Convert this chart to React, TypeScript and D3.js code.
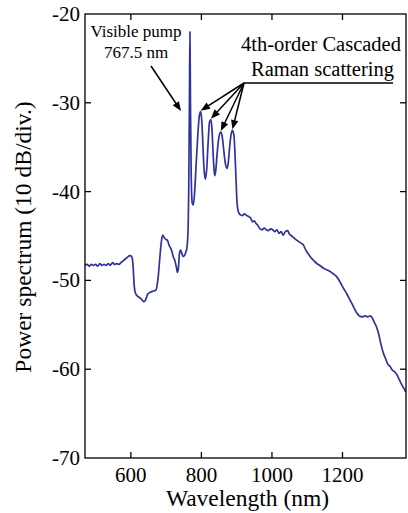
import React from "react";
import * as d3 from "d3";

const wavelength = [
  470, 476, 482, 488, 494, 500, 506, 512, 518, 524, 530, 536, 542, 548, 554, 560, 566, 572, 578, 584, 590, 597, 602,
  606, 609, 612, 617, 623, 630, 637, 642, 647, 652, 657, 664, 671, 675, 678, 682, 686, 690, 695, 700, 704, 708, 712,
  716, 720, 725, 729, 732, 735, 738, 741, 744, 748, 752, 756, 759, 762, 764, 766, 767.5, 769, 771, 774, 777, 780,
  785, 790, 794, 798, 801, 804, 807, 811, 815, 819, 823, 827, 830, 833, 836, 838, 841, 845, 850, 855, 859, 863, 867,
  872, 876, 880, 884, 888, 892, 895, 898, 901, 905, 910, 916, 922, 928, 934, 940, 945, 950, 955, 960, 966, 972, 978,
  984, 990, 996, 1002, 1008, 1014, 1020, 1026, 1032, 1038, 1044, 1050, 1056, 1062, 1068, 1075, 1082, 1089, 1096,
  1103, 1110, 1117, 1127, 1135, 1145, 1155, 1165, 1175, 1184, 1192, 1200, 1206, 1212, 1220, 1228, 1235, 1241, 1248,
  1256, 1264, 1272, 1278, 1284, 1290, 1297, 1303, 1309, 1316, 1322, 1328, 1335, 1341, 1348, 1354, 1360, 1366, 1373,
  1380,
];

const power = [
  -48.3, -48.2, -48.4, -48.2, -48.3, -48.2, -48.4, -48.1, -48.3, -48.2, -48.3, -48.1, -48.3, -48.0, -48.2, -48.1,
  -48.2, -48.0, -47.8, -47.6, -47.4, -47.2, -47.3, -48.2, -50.3, -51.3, -51.7, -51.9, -52.1, -52.4, -52.2, -51.6,
  -51.4, -51.3, -51.2, -51.1, -50.4, -49.4, -47.5, -45.8, -44.9, -45.2, -45.4, -45.5, -46.0, -46.3, -46.7, -47.3,
  -47.8, -48.5, -49.1, -48.5, -46.9, -46.6, -46.9, -47.3, -47.2, -46.8, -46.3, -44.5, -40.0, -30.0, -22.0, -30.0,
  -38.0, -41.3, -41.5, -40.5, -37.0, -33.5, -31.5, -31.0, -32.0, -34.5, -37.2, -38.6, -37.5, -34.5, -32.2, -31.9,
  -33.0, -35.5, -37.6, -38.2, -37.5, -35.5, -33.8, -33.3, -33.8, -35.2, -36.6, -37.4, -36.8, -35.0, -33.6, -33.1,
  -33.6, -35.5, -38.5, -41.2, -42.3, -42.6, -42.7, -42.5, -42.7, -42.8, -43.0, -43.4, -43.3, -43.6, -43.8, -44.2,
  -44.3, -44.1, -44.3, -44.4, -44.2, -44.3, -44.5, -44.3, -44.7, -44.5, -44.9, -44.5, -44.4, -44.8, -45.0, -45.2,
  -45.4, -45.6, -45.8, -46.0, -46.6, -47.0, -47.4, -47.7, -48.1, -48.3, -48.6, -48.8, -49.0, -49.3, -49.6, -50.1,
  -50.7, -51.1, -51.5, -52.1, -52.7, -53.3, -53.7, -54.0, -54.1, -54.0, -54.1, -54.0, -54.2, -54.7, -55.3, -56.1,
  -57.2, -58.2, -58.8, -59.4, -59.7, -60.1, -60.3, -60.6, -61.1, -61.6, -62.1, -62.6,
];

const xTicks = [600, 800, 1000, 1200];
const yTicks = [-70, -60, -50, -40, -30, -20];

const ramanPeaks = [798, 827, 855, 888];
const ramanPeakPower = [-31.0, -31.9, -33.3, -33.1];

const W = 408;
const H = 513;
const left = 85;
const right = 406;
const top = 14;
const bottom = 458;
const font = "'Liberation Serif', 'Times New Roman', serif";
const lineColor = "#30329a";

export default function App() {
  const x = d3.scaleLinear().domain([470, 1380]).range([left, right]);
  const y = d3.scaleLinear().domain([-70, -20]).range([bottom, top]);
  const pts: [number, number][] = wavelength.map((w, i) => [w, power[i]]);
  const line = d3
    .line<[number, number]>()
    .x((d) => x(d[0]))
    .y((d) => y(d[1]))
    .curve(d3.curveMonotoneX);

  const tickLen = 6;
  const origin = { x: 244, y: 83 };

  const arrowHead = (x1: number, y1: number, x2: number, y2: number) => {
    const ang = Math.atan2(y2 - y1, x2 - x1);
    const len = 10;
    const half = 0.38;
    const p1 = [x2 - len * Math.cos(ang - half), y2 - len * Math.sin(ang - half)];
    const p2 = [x2 - len * Math.cos(ang + half), y2 - len * Math.sin(ang + half)];
    return `M${x2},${y2}L${p1[0]},${p1[1]}L${p2[0]},${p2[1]}Z`;
  };

  const pumpArrow = { x1: 151, y1: 66, x2: 181, y2: 111 };

  return (
    <svg
      width={W}
      height={H}
      style={{ position: "absolute", left: 0, top: 0, background: "#fff" }}
      fontFamily={font}
    >
      <rect x={0} y={0} width={W} height={H} fill="#fff" />
      <defs>
        <clipPath id="plotclip">
          <rect x={left} y={top - 2} width={right - left} height={bottom - top + 2} />
        </clipPath>
      </defs>
      {/* data line */}
      <path
        d={line(pts) || ""}
        fill="none"
        stroke={lineColor}
        strokeWidth={1.7}
        strokeLinejoin="round"
        clipPath="url(#plotclip)"
      />
      {/* box */}
      <rect x={left} y={top} width={right - left} height={bottom - top} fill="none" stroke="#000" strokeWidth={1.3} />
      {/* x ticks */}
      {xTicks.map((t) => (
        <g key={"x" + t}>
          <line x1={x(t)} x2={x(t)} y1={bottom} y2={bottom - tickLen} stroke="#000" strokeWidth={1.3} />
          <line x1={x(t)} x2={x(t)} y1={top} y2={top + tickLen} stroke="#000" strokeWidth={1.3} />
          <text x={x(t)} y={482} fontSize={21} textAnchor="middle" fill="#000">
            {t}
          </text>
        </g>
      ))}
      {/* y ticks */}
      {yTicks.map((t) => (
        <g key={"y" + t}>
          {t > -70 && t < -20 && (
            <>
              <line x1={left} x2={left + tickLen} y1={y(t)} y2={y(t)} stroke="#000" strokeWidth={1.3} />
              <line x1={right} x2={right - tickLen} y1={y(t)} y2={y(t)} stroke="#000" strokeWidth={1.3} />
            </>
          )}
          <text x={80} y={y(t) + 7} fontSize={21} textAnchor="end" fill="#000">
            {t}
          </text>
        </g>
      ))}
      {/* axis labels */}
      <text x={(left + right) / 2 + 2} y={506} fontSize={23.5} textAnchor="middle" fill="#000">
        Wavelength (nm)
      </text>
      <text
        transform={`translate(31,${(top + bottom) / 2 + 1}) rotate(-90)`}
        fontSize={23.5}
        textAnchor="middle"
        fill="#000"
      >
        Power spectrum (10 dB/div.)
      </text>
      {/* pump annotation */}
      <text x={136} y={37} fontSize={17} textAnchor="middle" fill="#000">
        Visible pump
      </text>
      <text x={136} y={58} fontSize={17} textAnchor="middle" fill="#000">
        767.5 nm
      </text>
      <line
        x1={pumpArrow.x1}
        y1={pumpArrow.y1}
        x2={pumpArrow.x2 - 4}
        y2={pumpArrow.y2 - 6}
        stroke="#000"
        strokeWidth={1.5}
      />
      <path d={arrowHead(pumpArrow.x1, pumpArrow.y1, pumpArrow.x2, pumpArrow.y2)} fill="#000" />
      {/* raman annotation */}
      <text x={321} y={51} fontSize={20.5} textAnchor="middle" fill="#000">
        4th-order Cascaded
      </text>
      <text x={322.5} y={76} fontSize={20.5} textAnchor="middle" fill="#000">
        Raman scattering
      </text>
      <line x1={origin.x} x2={393} y1={origin.y} y2={origin.y} stroke="#000" strokeWidth={1.3} />
      {ramanPeaks.map((p, i) => {
        const tx = x(p);
        const ty = y(ramanPeakPower[i]) - 1;
        const ang = Math.atan2(ty - origin.y, tx - origin.x);
        return (
          <g key={"r" + i}>
            <line
              x1={origin.x}
              y1={origin.y}
              x2={tx - 7 * Math.cos(ang)}
              y2={ty - 7 * Math.sin(ang)}
              stroke="#000"
              strokeWidth={1.5}
            />
            <path d={arrowHead(origin.x, origin.y, tx, ty)} fill="#000" />
          </g>
        );
      })}
    </svg>
  );
}
